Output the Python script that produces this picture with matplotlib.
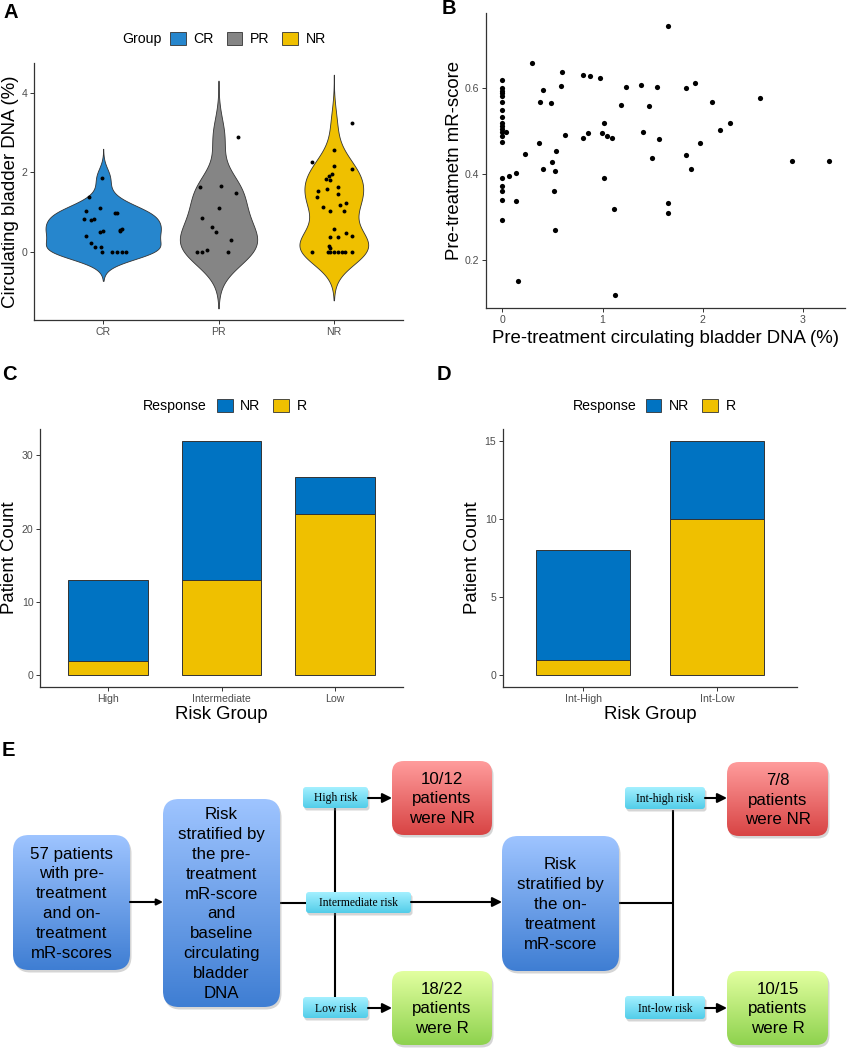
import numpy as np
import matplotlib.pyplot as plt
from matplotlib.patches import FancyBboxPatch, Patch

plt.rcParams['font.family'] = ['Liberation Sans', 'DejaVu Sans']

# =====================
# DATA
# =====================
groups = ['CR', 'PR', 'NR']
group_colors = ['#2686CD', '#858585', '#EFC000']

cr_dna = [1.87, 1.37, 1.02, 1.10, 0.84, 0.80, 0.82, 0.97, 0.98, 0.59, 0.55, 0.525,
          0.50, 0.52, 0.40, 0.225, 0.125, 0.125, 0, 0, 0, 0, 0]
cr_jit = [-0.01, -0.12, -0.15, -0.03, -0.17, -0.11, -0.08, 0.10, 0.12, 0.16, 0.15, 0.15,
          -0.03, 0.0, -0.15, -0.11, -0.07, -0.02, -0.01, 0.08, 0.12, 0.16, 0.20]
pr_dna = [2.89, 1.63, 1.65, 1.48, 1.11, 0.86, 0.62, 0.50, 0.30, 0, 0, 0.06, 0]
pr_jit = [0.17, -0.16, 0.02, 0.15, 0.0, -0.14, -0.06, -0.02, 0.11, -0.19, -0.14, -0.10, 0.08]
nr_dna = [3.24, 2.27, 2.56, 2.08, 2.16, 1.96, 1.91, 1.83, 1.82, 1.53, 1.39, 1.57, 1.64,
          1.46, 1.12, 1.02, 1.17, 1.22, 1.03, 0.59, 0.48, 0.38, 0.37, 0.40, 0.16, 0.11,
          0, 0, 0, 0, 0, 0, 0, 0]
nr_jit = [0.16, -0.19, 0.0, 0.16, 0.0, -0.02, -0.04, -0.07, -0.03, -0.14, -0.15, -0.06, 0.04,
          0.04, -0.09, -0.03, 0.05, 0.11, 0.09, 0.0, 0.11, -0.03, 0.04, 0.16, -0.04, -0.03,
          -0.19, -0.05, -0.03, 0.0, 0.04, 0.07, 0.10, 0.16]

# panel B: baseline circulating bladder DNA vs pre-treatment mR-score
b_dna = [0, 0, 0, 0, 0, 0, 0, 0, 0, 0, 0, 0, 0, 0, 0, 0, 0, 0, 0, 0.04,
         0.063, 0.132, 0.132, 0.158, 0.228, 0.297, 0.376, 0.363, 0.406, 0.406, 0.482,
         0.498, 0.512, 0.525, 0.521, 0.538, 0.587, 0.594, 0.630, 0.802, 0.805, 0.855,
         0.875, 0.977, 0.993, 1.016, 1.016, 1.046, 1.099, 1.112, 1.125, 1.182, 1.234,
         1.380, 1.406, 1.459, 1.495, 1.545, 1.568, 1.653, 1.650, 1.657, 1.835, 1.838,
         1.884, 1.924, 1.970, 2.089, 2.168, 2.277, 2.574, 2.891, 3.257]
b_score = [0.619, 0.600, 0.594, 0.588, 0.582, 0.568, 0.550, 0.534, 0.519, 0.513,
           0.506, 0.499, 0.490, 0.476, 0.392, 0.372, 0.360, 0.339, 0.293, 0.499,
           0.395, 0.403, 0.337, 0.152, 0.448, 0.658, 0.568, 0.473, 0.595, 0.412, 0.565,
           0.429, 0.362, 0.408, 0.270, 0.453, 0.605, 0.638, 0.492, 0.632, 0.485, 0.496,
           0.628, 0.625, 0.496, 0.519, 0.391, 0.490, 0.485, 0.320, 0.120, 0.562, 0.602,
           0.608, 0.499, 0.559, 0.437, 0.603, 0.481, 0.744, 0.332, 0.311, 0.600, 0.445,
           0.413, 0.613, 0.472, 0.568, 0.502, 0.519, 0.577, 0.430, 0.430]

# panels C and D: counts by risk group
resp_labels = ['NR', 'R']
resp_colors = ['#0073C2', '#EFC000']
c_groups = ['High', 'Intermediate', 'Low']
c_nr = [11, 19, 5]
c_r = [2, 13, 22]
d_groups = ['Int-High', 'Int-Low']
d_nr = [7, 5]
d_r = [1, 10]

# panel E: flowchart text
box_texts = {
    'start': '57 patients\nwith pre-\ntreatment\nand on-\ntreatment\nmR-scores',
    'pre': 'Risk\nstratified by\nthe pre-\ntreatment\nmR-score\nand\nbaseline\ncirculating\nbladder\nDNA',
    'on': 'Risk\nstratified by\nthe on-\ntreatment\nmR-score',
    'high': '10/12\npatients\nwere NR',
    'low': '18/22\npatients\nwere R',
    'ihigh': '7/8\npatients\nwere NR',
    'ilow': '10/15\npatients\nwere R',
}
tag_texts = ['High risk', 'Intermediate risk', 'Low risk', 'Int-high risk', 'Int-low risk']

TICK_FS = 7.6
TITLE_FS = 13.4
LEG_FS = 10.2
TICK_COL = '#4D4D4D'

W, H = 847, 1050
fig = plt.figure(figsize=(W / 100, H / 100), dpi=100)


def px_axes(left, top, right, bottom):
    return fig.add_axes([left / W, 1 - bottom / H, (right - left) / W, (bottom - top) / H])


def classic(ax):
    for s in ['top', 'right']:
        ax.spines[s].set_visible(False)
    for s in ['left', 'bottom']:
        ax.spines[s].set_color('#333333')
        ax.spines[s].set_linewidth(0.9)
    ax.tick_params(labelsize=TICK_FS, labelcolor=TICK_COL, color='#333333',
                   length=2.75, width=0.7, pad=2)


def bw_nrd0(x):
    x = np.asarray(x, float)
    sd = x.std(ddof=1)
    q75, q25 = np.percentile(x, [75, 25])
    lo = min(sd, (q75 - q25) / 1.34)
    if lo == 0:
        lo = sd
    return 0.9 * lo * len(x) ** -0.2


def legend_row(ax, title, labels, colors, x0, y, tx):
    handles = [Patch(facecolor=c, edgecolor='#333333', linewidth=0.6) for c in colors]
    ax.legend(handles, labels, loc='center left', bbox_to_anchor=(x0, y), ncol=len(labels),
              frameon=False, borderpad=0, borderaxespad=0, handlelength=1.1,
              handleheight=1.1, handletextpad=0.55, columnspacing=0.9, fontsize=LEG_FS)
    ax.text(tx, y, title, transform=ax.transAxes, ha='right', va='center', fontsize=LEG_FS)


# =====================
# A: violins
# =====================
axA = px_axes(34, 63, 403, 320)
classic(axA)
vals = [cr_dna, pr_dna, nr_dna]
jits = [cr_jit, pr_jit, nr_jit]
curves = []
for v in vals:
    v = np.asarray(v, float)
    bw = bw_nrd0(v)
    grid = np.linspace(v.min() - 3 * bw, v.max() + 3 * bw, 512)
    dens = np.exp(-0.5 * ((grid[:, None] - v[None, :]) / bw) ** 2).sum(1) / (len(v) * bw * np.sqrt(2 * np.pi))
    curves.append((grid, dens))
dmax = max(d.max() for _, d in curves)
for i, ((grid, dens), col) in enumerate(zip(curves, group_colors)):
    half = 0.5 * dens / dmax
    axA.fill_betweenx(grid, i + 1 - half, i + 1 + half, facecolor=col,
                      edgecolor='#333333', linewidth=0.6, zorder=2)
    axA.scatter(np.asarray(jits[i]) + i + 1, vals[i], s=8, color='black', zorder=3, linewidths=0)
lo = min(g.min() for g, _ in curves)
hi = max(g.max() for g, _ in curves)
pad = 0.05 * (hi - lo)
axA.set_ylim(lo - pad, hi + pad)
axA.set_xlim(0.4, 3.6)
axA.set_xticks([1, 2, 3])
axA.set_xticklabels(groups)
axA.set_yticks([0, 2, 4])
axA.set_ylabel('Circulating bladder DNA (%)', fontsize=TITLE_FS)
axA.yaxis.set_label_coords(-0.04, 0.5)
legend_row(axA, 'Group', groups, group_colors, 0.3686, 1.093, 0.347)

# =====================
# B: scatter
# =====================
axB = px_axes(486, 13, 845, 308)
classic(axB)
axB.scatter(b_dna, b_score, s=14, color='black', linewidths=0)
xr = max(b_dna) - min(b_dna)
yr = max(b_score) - min(b_score)
axB.set_xlim(min(b_dna) - 0.05 * xr, max(b_dna) + 0.05 * xr)
axB.set_ylim(min(b_score) - 0.05 * yr, max(b_score) + 0.05 * yr)
axB.set_xticks([0, 1, 2, 3])
axB.set_yticks([0.2, 0.4, 0.6])
axB.set_xlabel('Pre-treatment circulating bladder DNA (%)', fontsize=TITLE_FS)
axB.set_ylabel('Pre-treatmetn mR-score', fontsize=TITLE_FS)
axB.xaxis.set_label_coords(0.5, -0.073)
axB.yaxis.set_label_coords(-0.065, 0.5)


# =====================
# C / D: stacked bars
# =====================
def stacked(ax, cats, nr, r, yticks):
    classic(ax)
    x = np.arange(1, len(cats) + 1)
    ax.bar(x, r, width=0.7, color=resp_colors[1], edgecolor='#333333', linewidth=0.7)
    ax.bar(x, nr, width=0.7, bottom=r, color=resp_colors[0], edgecolor='#333333', linewidth=0.7)
    tot = np.asarray(nr) + np.asarray(r)
    ax.set_xlim(0.4, len(cats) + 0.6)
    ax.set_ylim(-0.05 * tot.max(), 1.05 * tot.max())
    ax.set_xticks(x)
    ax.set_xticklabels(cats)
    ax.set_yticks(yticks)
    ax.set_xlabel('Risk Group', fontsize=TITLE_FS)
    ax.set_ylabel('Patient Count', fontsize=TITLE_FS)
    ax.xaxis.set_label_coords(0.5, -0.075)


axC = px_axes(40, 429, 403, 687)
stacked(axC, c_groups, c_nr, c_r, [0, 10, 20, 30])
axC.yaxis.set_label_coords(-0.06, 0.5)
legend_row(axC, 'Response', resp_labels, resp_colors, 0.4876, 1.089, 0.46)

axD = px_axes(503, 429, 797, 687)
stacked(axD, d_groups, d_nr, d_r, [0, 5, 10, 15])
axD.yaxis.set_label_coords(-0.075, 0.5)
legend_row(axD, 'Response', resp_labels, resp_colors, 0.486, 1.089, 0.456)

# =====================
# E: flowchart (pixel coordinates)
# =====================
axE = fig.add_axes([0, 0, 1, 1], zorder=-1)
axE.set_xlim(0, W)
axE.set_ylim(H, 0)
axE.axis('off')

BLUE = ('#9EC4FF', '#3F7ED3')
RED = ('#FF9C9C', '#D84444')
GREEN = ('#E2FFA0', '#8ED24E')
CYAN = ('#A4F0FF', '#52CDE9')


def grad_box(x0, y0, x1, y1, cols, r=14, text=None, fs=12.2, family=None, ls=1.4):
    sh = FancyBboxPatch((x0 + 1.5, y0 + 2.5), x1 - x0, y1 - y0,
                        boxstyle=f'round,pad=0,rounding_size={r}',
                        facecolor='#888888', edgecolor='none', alpha=0.35)
    axE.add_patch(sh)
    box = FancyBboxPatch((x0, y0), x1 - x0, y1 - y0,
                         boxstyle=f'round,pad=0,rounding_size={r}',
                         facecolor='none', edgecolor='none')
    axE.add_patch(box)
    c0 = np.array(plt.matplotlib.colors.to_rgb(cols[0]))
    c1 = np.array(plt.matplotlib.colors.to_rgb(cols[1]))
    t = np.linspace(0, 1, 100)[:, None, None]
    img = c0 * (1 - t) + c1 * t
    im = axE.imshow(img, extent=(x0, x1, y1, y0), origin='upper', aspect='auto', zorder=1)
    im.set_clip_path(box)
    if text:
        kw = dict(fontsize=fs, ha='center', va='center', linespacing=ls, zorder=3)
        if family:
            kw['family'] = family
        axE.text((x0 + x1) / 2, (y0 + y1) / 2 + 1, text, **kw)


def arrow(x0, x1, y, ms=14):
    axE.annotate('', xy=(x1, y), xytext=(x0, y),
                 arrowprops=dict(arrowstyle='-|>', lw=1.5, color='black',
                                 mutation_scale=ms, shrinkA=0, shrinkB=0), zorder=2)


def line(xs, ys):
    axE.plot(xs, ys, color='black', lw=1.5, solid_capstyle='butt', zorder=0.5)


# connecting lines
line([280, 335], [903, 903])
line([335, 335], [808, 997])
line([619, 673], [903, 903])
line([673, 673], [810, 996])
arrow(130, 163, 902, ms=9)
arrow(411, 502, 902)
arrow(368, 392, 798)
arrow(368, 392, 1008)
arrow(705, 727, 798)
arrow(705, 727, 1008)

grad_box(13, 835, 130, 970, BLUE, r=16, text=box_texts['start'])
grad_box(163, 799, 280, 1007, BLUE, r=16, text=box_texts['pre'])
grad_box(502, 836, 619, 971, BLUE, r=16, text=box_texts['on'])
grad_box(392, 761, 492, 835, RED, r=12, text=box_texts['high'])
grad_box(392, 971, 492, 1045, GREEN, r=12, text=box_texts['low'])
grad_box(727, 762, 828, 836, RED, r=12, text=box_texts['ihigh'])
grad_box(727, 971, 828, 1045, GREEN, r=12, text=box_texts['ilow'])

tag_pos = [(303, 787, 368, 808), (306, 892, 411, 913), (303, 997, 368, 1018),
           (625, 787, 705, 809), (625, 996, 705, 1019)]
for (x0, y0, x1, y1), txt in zip(tag_pos, tag_texts):
    grad_box(x0, y0, x1, y1, CYAN, r=3, text=txt, fs=8.4, family='Liberation Serif', ls=1.2)

# panel letters
for lab, (x, y) in zip('ABCDE', [(4, 12), (442, 8), (2, 375), (437, 375), (2, 751)]):
    axE.text(x, y, lab, fontsize=14.5, fontweight='bold', ha='left', va='center')

fig.savefig('out.png', dpi=100)
